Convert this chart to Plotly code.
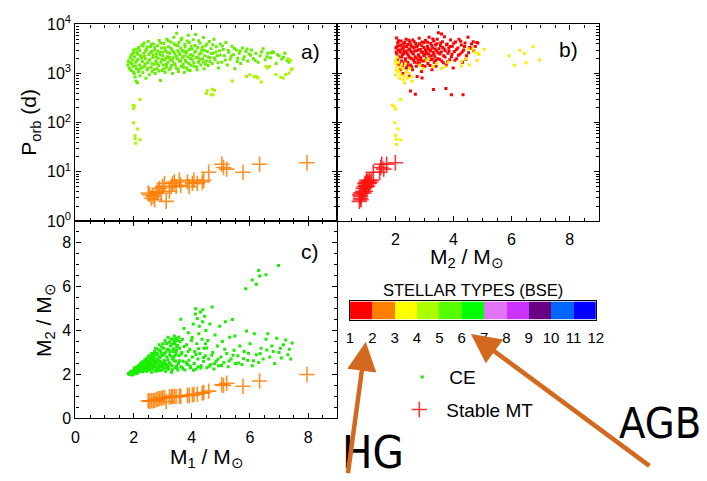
import plotly.graph_objects as go

# ---------------- data ----------------
# Panel a) CE systems: (M1 [Msun], P_orb [d]) coloured by donor type
a_ce_type5 = [
    (1.80, 1500), (1.82, 1800), (1.85, 1300), (1.88, 2100), (1.90, 1650), (1.92, 1150), (1.95, 2500),
    (1.97, 1900), (1.98, 1400), (2.00, 3000), (2.02, 1000), (2.03, 2200), (2.05, 850), (2.07, 1700),
    (2.08, 700), (2.10, 1250), (2.12, 2700), (2.13, 650), (2.15, 1950), (2.17, 1100), (2.18, 3400),
    (2.20, 1500), (2.22, 900), (2.24, 2300), (2.25, 1300),
    (2.28, 3800), (2.30, 1750), (2.32, 1050), (2.35, 2600), (2.36, 4200), (2.38, 1400), (2.40, 2000),
    (2.42, 800), (2.44, 3100), (2.46, 1200), (2.48, 1650), (2.50, 4500), (2.52, 2400), (2.54, 950),
    (2.56, 1900), (2.58, 3500), (2.60, 1350), (2.62, 2800), (2.64, 1100), (2.66, 2150), (2.68, 4000),
    (2.70, 1550), (2.72, 3000), (2.74, 1000), (2.76, 1800), (2.78, 2500), (2.80, 1250), (2.82, 3700),
    (2.84, 2050), (2.86, 1450), (2.88, 4700), (2.90, 2700), (2.92, 720), (2.94, 1700), (2.96, 3300),
    (2.98, 1150),
    (3.00, 2300), (3.02, 1500), (3.04, 4100), (3.06, 1900), (3.08, 1050), (3.10, 2900), (3.12, 1350),
    (3.14, 5000), (3.16, 2200), (3.18, 1700), (3.20, 3500), (3.22, 1200), (3.24, 2600), (3.26, 1900),
    (3.28, 4400), (3.30, 1450), (3.32, 3000), (3.34, 1000), (3.36, 2100), (3.38, 5500), (3.40, 1600),
    (3.42, 2500), (3.44, 3800), (3.46, 1300), (3.48, 6600), (3.50, 2000), (3.52, 2900), (3.54, 1100),
    (3.56, 4300), (3.58, 1750), (3.60, 2400), (3.62, 3300), (3.64, 1400), (3.66, 5200), (3.68, 2100),
    (3.70, 1550), (3.72, 2800), (3.74, 1050), (3.76, 3900), (3.78, 1850), (3.80, 2600), (3.82, 1300),
    (3.84, 4600), (3.86, 2200), (3.88, 6000), (3.90, 1600), (3.92, 3100), (3.94, 1150), (3.96, 2400),
    (3.98, 3600),
    (4.02, 1900), (4.05, 4900), (4.08, 1400), (4.10, 2700), (4.13, 6200), (4.15, 2100), (4.18, 1200),
    (4.20, 3400), (4.23, 1700), (4.26, 2500), (4.28, 4200), (4.31, 1500), (4.34, 3000), (4.37, 2000),
    (4.40, 5400), (4.42, 1250), (4.45, 2300), (4.48, 3700), (4.50, 1800), (4.53, 2800), (4.56, 1450),
    (4.60, 4500), (4.63, 2100), (4.66, 3200), (4.70, 1600), (4.73, 2600), (4.76, 5000), (4.80, 1900),
    (4.84, 3500), (4.88, 2300), (4.92, 1300), (4.95, 2900), (4.98, 4000),
    (5.03, 1700), (5.08, 3100), (5.12, 2300), (5.17, 4300), (5.22, 1500), (5.27, 2700), (5.32, 1950),
    (5.38, 3600), (5.43, 2400), (5.48, 1250), (5.53, 3000), (5.58, 2050), (5.63, 2600), (5.68, 1600),
    (5.74, 3300), (5.80, 2200), (5.86, 2800), (5.92, 1800), (5.97, 2500),
    (6.05, 3000), (6.12, 2000), (6.20, 2600), (6.28, 1700), (6.35, 2300), (6.45, 3200), (6.52, 1900),
    (6.61, 2600), (6.72, 2640), (6.81, 2680), (6.70, 2100), (6.78, 2770), (6.90, 1600), (7.00, 2300),
    (7.09, 1980), (7.20, 2600), (7.34, 1700),
    (1.83, 1720), (1.87, 1240), (1.91, 2360), (1.94, 1580), (1.99, 1080), (2.01, 2640), (2.06, 1420),
    (2.09, 3150), (2.11, 1830), (2.14, 2480), (2.19, 1190), (2.21, 2950), (2.27, 2070), (2.29, 1330),
    (2.33, 3640), (2.37, 2240), (2.39, 1560), (2.41, 2870), (2.47, 3480), (2.49, 1280), (2.53, 1870),
    (2.57, 2660), (2.61, 3920), (2.63, 1590), (2.67, 2380), (2.71, 1210), (2.73, 3380), (2.77, 2180),
    (2.81, 1610), (2.83, 2860), (2.87, 1120), (2.91, 2420), (2.93, 4180), (2.97, 1930), (3.01, 2760),
    (3.03, 1230), (3.07, 3310), (3.11, 2040), (3.13, 1520), (3.17, 2680), (3.19, 4650), (3.23, 2150),
    (3.27, 1290), (3.29, 3220), (3.33, 1830), (3.37, 2790), (3.39, 4060), (3.43, 1510), (3.47, 2230),
    (3.51, 3730), (3.53, 1230), (3.57, 2630), (3.61, 1840), (3.63, 4880), (3.67, 2980), (3.71, 1350),
    (3.73, 2260), (3.77, 3460), (3.81, 1720), (3.83, 2840), (3.87, 1180), (3.91, 4260), (3.95, 2020),
    (3.97, 1480), (4.01, 3190), (4.04, 2310), (4.07, 1660), (4.11, 3740), (4.14, 2880), (4.17, 1360),
    (4.21, 2180), (4.24, 4660), (4.27, 1940), (4.32, 2620), (4.36, 3480), (4.39, 1720), (4.43, 2980),
    (4.47, 1540), (4.52, 3980), (4.57, 2180), (4.62, 1750), (4.67, 2560), (4.72, 3840), (4.78, 2080),
    (4.83, 2760), (4.90, 1660), (4.97, 2380), (5.05, 3650), (5.15, 1880), (5.25, 2950), (5.35, 2250),
    (5.46, 3250), (5.56, 1750), (5.66, 2880), (5.77, 1950), (5.90, 3150), (6.02, 2350), (6.18, 1850),
    (6.40, 2750), (6.58, 2200), (6.95, 2400), (7.15, 2150), (7.28, 1850),
]
a_ce_type4 = [
    (1.99, 226), (2.00, 195), (2.02, 219), (2.22, 297), (2.00, 100), (2.13, 74), (2.05, 54),
    (2.22, 45), (2.05, 47), (2.07, 38),
    (4.53, 444), (4.70, 478), (4.78, 457), (4.50, 394), (4.67, 372), (4.73, 372),
    (5.39, 706), (5.88, 870), (5.99, 940), (6.14, 857), (6.22, 870), (6.27, 810), (6.39, 670),
    (6.55, 1385), (6.61, 1290), (6.67, 1385), (6.89, 955), (7.06, 840), (7.14, 810), (7.23, 955),
    (7.34, 1024), (7.42, 1194), (7.45, 1250), (7.40, 1866), (7.31, 2010),
]

# Panel b) CE systems: (M2 [Msun], P_orb [d]) coloured by companion type
b_ce_type1 = [
    (2.02, 3300), (2.04, 5300), (2.05, 2500), (2.07, 1900), (2.08, 4200), (2.10, 3000), (2.12, 1500),
    (2.13, 2200), (2.15, 3700), (2.17, 2700), (2.18, 1200), (2.20, 4600), (2.21, 1800), (2.23, 3200),
    (2.25, 2400), (2.26, 1000), (2.28, 4000), (2.30, 2900), (2.31, 1600), (2.33, 3500), (2.35, 2000),
    (2.37, 5000), (2.38, 1300), (2.40, 2600), (2.42, 3900), (2.43, 1700), (2.45, 3000), (2.47, 2200),
    (2.48, 900), (2.50, 4400),
    (2.52, 1500), (2.52, 440), (2.54, 2800), (2.55, 3600), (2.57, 2000), (2.59, 1200), (2.60, 4800),
    (2.62, 2500), (2.64, 3300), (2.66, 1700), (2.68, 2200), (2.69, 380), (2.70, 4100), (2.72, 1400),
    (2.74, 2900), (2.75, 870), (2.76, 3700), (2.78, 1900), (2.80, 2400), (2.82, 5200), (2.84, 1600),
    (2.86, 3100), (2.88, 2100), (2.90, 1100), (2.92, 4400), (2.92, 810), (2.94, 2700), (2.96, 1800),
    (2.98, 3400),
    (3.00, 2300), (3.02, 1400), (3.04, 4700), (3.06, 2900), (3.08, 2000), (3.10, 3600), (3.12, 1600),
    (3.14, 2500), (3.16, 5500), (3.18, 3000), (3.20, 1900), (3.22, 4100), (3.24, 2300), (3.26, 1200),
    (3.28, 3300), (3.30, 2700), (3.31, 475), (3.32, 4600), (3.34, 1700), (3.36, 2200), (3.38, 3800),
    (3.40, 1400), (3.42, 2900), (3.44, 5000), (3.46, 2000), (3.48, 6800), (3.50, 3200),
    (3.53, 2500), (3.56, 4200), (3.59, 6400), (3.60, 1800), (3.63, 3400), (3.66, 2300), (3.69, 5600),
    (3.72, 2900), (3.74, 495), (3.75, 1500), (3.78, 4000), (3.81, 2600), (3.84, 3300), (3.87, 1900),
    (3.90, 4800), (3.93, 2200), (3.93, 372), (3.96, 3600), (3.99, 1300),
    (4.03, 2800), (4.07, 4400), (4.11, 2000), (4.15, 3300), (4.19, 5000), (4.23, 2500), (4.27, 3800),
    (4.31, 1700), (4.33, 372), (4.35, 3000), (4.40, 4200), (4.45, 2300), (4.50, 5500), (4.55, 3400),
    (4.62, 4000), (4.70, 2900), (4.80, 4300), (4.84, 4200),
    (2.03, 2760), (2.06, 3560), (2.09, 2140), (2.11, 4660), (2.14, 1680), (2.16, 2980), (2.19, 3820),
    (2.22, 2160), (2.24, 1380), (2.27, 3380), (2.29, 2560), (2.32, 4280), (2.34, 1860), (2.36, 2780),
    (2.39, 3540), (2.41, 1480), (2.44, 2380), (2.46, 4760), (2.49, 3160), (2.51, 2060), (2.53, 3860),
    (2.56, 1380), (2.58, 2660), (2.61, 3460), (2.63, 1860), (2.65, 4420), (2.67, 2860), (2.71, 2060),
    (2.73, 3560), (2.77, 1660), (2.79, 3060), (2.81, 2260), (2.83, 4060), (2.87, 1860), (2.89, 2760),
    (2.91, 3660), (2.93, 1460), (2.97, 2460), (2.99, 4260), (3.03, 3060), (3.05, 1860), (3.07, 2560),
    (3.11, 4360), (3.13, 3260), (3.17, 2160), (3.19, 1460), (3.21, 2860), (3.25, 3760), (3.27, 1960),
    (3.29, 5060), (3.33, 2460), (3.37, 3160), (3.39, 1860), (3.43, 4060), (3.47, 2660), (3.52, 1960),
    (3.55, 3660), (3.58, 2760), (3.62, 4460), (3.65, 1660), (3.68, 3160), (3.71, 2160), (3.76, 3860),
    (3.80, 1760), (3.85, 2860), (3.89, 3560), (3.95, 2460), (4.01, 4160), (4.05, 1860), (4.10, 3060),
    (4.17, 2360), (4.25, 4560), (4.30, 2760), (4.38, 3560), (4.43, 1960), (4.52, 2660), (4.60, 3260),
    (4.68, 4460), (4.75, 3560),
]
b_ce_type3 = [
    (2.01, 1585), (2.07, 1370), (2.12, 1125), (2.18, 937), (2.27, 748), (2.32, 645), (2.41, 808),
    (2.46, 1000), (2.01, 937), (2.09, 1090), (2.24, 1260), (2.35, 1585), (2.50, 1260), (2.58, 697),
    (2.01, 1840), (2.07, 2140), (2.03, 1200), (2.15, 800), (2.20, 1450), (2.30, 900), (2.12, 1700),
    (2.38, 1100), (2.55, 850),
    (2.18, 297), (1.90, 227), (1.96, 217), (2.01, 189), (1.98, 99), (2.09, 74), (2.01, 55),
    (2.03, 46), (2.18, 45), (2.04, 36),
    (2.85, 1500), (2.95, 1250), (3.08, 1870), (3.14, 2000), (3.31, 1390), (3.42, 1600), (3.59, 1260),
    (3.71, 1370), (3.82, 1710), (4.27, 1430), (4.27, 1760), (4.44, 1990), (4.55, 1510), (4.50, 3210),
    (4.67, 3210), (4.72, 2750), (4.88, 2450),
    (4.81, 1840), (4.84, 2600), (5.06, 3110), (5.91, 2300), (6.10, 1470), (6.28, 2970), (6.44, 2560),
    (6.50, 1660), (6.74, 3510), (6.96, 1900),
]

# Panel c) CE systems: (M1 [Msun], M2 [Msun])
c_ce = [
    (1.82, 2.04), (1.85, 2.00), (1.88, 2.10), (1.90, 2.03), (1.92, 2.15), (1.95, 1.97), (1.97, 2.08),
    (2.00, 2.20), (2.02, 2.02), (2.04, 2.12), (2.06, 2.28), (2.08, 2.06), (2.10, 2.18), (2.12, 2.35),
    (2.14, 2.10), (2.16, 2.25), (2.18, 2.42), (2.20, 2.15), (2.22, 2.32), (2.24, 2.50), (2.26, 2.20),
    (2.28, 2.40), (2.30, 2.58), (2.32, 2.12), (2.34, 2.30), (2.36, 2.48), (2.38, 2.66), (2.40, 2.22),
    (2.42, 2.38), (2.44, 2.56), (2.46, 2.75), (2.48, 2.30), (2.50, 2.45), (2.50, 2.62), (2.45, 2.15),
    (2.52, 2.85), (2.54, 2.20), (2.56, 2.38), (2.58, 2.55), (2.60, 2.72), (2.62, 2.95), (2.64, 2.25),
    (2.66, 2.45), (2.68, 2.62), (2.70, 2.80), (2.72, 3.05), (2.74, 2.18), (2.76, 2.35), (2.78, 2.52),
    (2.80, 2.70), (2.82, 2.90), (2.84, 3.15), (2.86, 2.28), (2.88, 2.42), (2.90, 2.60), (2.92, 2.78),
    (2.94, 3.00), (2.96, 3.25), (2.98, 2.20), (2.99, 2.50), (2.62, 2.10), (2.70, 2.58), (2.78, 2.15),
    (2.85, 2.65), (2.92, 2.35), (2.55, 2.65), (2.66, 2.85), (2.75, 3.20), (2.88, 3.35), (2.97, 2.90),
    (3.00, 3.40), (3.02, 2.30), (3.04, 2.65), (3.06, 2.95), (3.08, 3.55), (3.10, 2.15), (3.12, 2.45),
    (3.14, 2.80), (3.16, 3.15), (3.18, 3.70), (3.20, 2.25), (3.22, 2.55), (3.24, 2.90), (3.26, 3.30),
    (3.28, 3.60), (3.30, 2.10), (3.32, 2.40), (3.34, 2.70), (3.36, 3.05), (3.38, 3.45), (3.40, 3.75),
    (3.42, 2.30), (3.44, 2.60), (3.46, 2.95), (3.48, 3.25), (3.50, 3.55), (3.52, 2.20), (3.54, 2.50),
    (3.56, 2.85), (3.58, 3.20), (3.60, 3.50), (3.35, 3.60), (3.45, 3.65), (3.25, 3.05), (3.15, 2.30),
    (3.05, 2.45), (3.38, 2.80), (3.48, 2.40), (3.55, 3.70), (3.42, 3.40),
    (3.62, 4.52), (3.64, 2.35), (3.66, 3.00), (3.68, 3.60), (3.70, 2.60), (3.73, 4.10), (3.76, 2.20),
    (3.79, 2.85), (3.82, 3.35), (3.85, 2.45), (3.88, 3.90), (3.90, 2.65), (3.93, 3.15), (3.96, 2.30),
    (3.99, 3.55), (4.02, 2.80), (4.05, 4.30), (4.08, 2.50), (4.10, 3.05), (4.12, 4.75), (4.15, 2.25),
    (4.17, 3.40), (4.19, 4.55), (4.21, 2.70), (4.24, 3.85), (4.26, 4.20), (4.28, 2.95), (4.30, 4.85),
    (4.32, 2.40), (4.35, 3.60), (4.37, 4.40), (4.40, 2.60), (4.42, 3.20), (4.44, 4.65), (4.46, 2.85),
    (4.48, 4.00), (4.13, 5.00), (4.38, 4.95), (4.22, 2.35), (4.47, 3.40),
    (4.52, 2.30), (4.55, 3.55), (4.58, 2.70), (4.62, 4.30), (4.65, 2.45), (4.70, 5.08), (4.72, 3.00),
    (4.76, 2.25), (4.80, 3.80), (4.84, 2.60), (4.88, 3.30), (4.92, 2.40), (4.96, 4.20), (5.00, 2.80),
    (5.05, 3.50), (5.10, 2.55), (5.15, 4.40), (5.20, 2.95), (5.25, 2.35), (5.30, 3.70), (5.35, 2.70),
    (5.40, 4.50), (5.45, 3.10), (5.50, 2.50), (5.48, 3.75),
    (5.58, 2.85), (5.65, 3.30), (5.72, 2.45), (5.80, 3.05), (5.88, 3.98), (5.92, 2.65), (6.00, 3.40),
    (6.08, 2.40), (6.15, 3.85), (6.22, 2.90), (6.30, 2.55), (6.38, 3.20), (6.45, 2.70), (6.55, 3.60),
    (6.61, 3.86), (6.68, 2.80), (6.75, 3.30), (6.85, 2.50), (6.92, 3.65), (7.00, 3.00), (7.08, 2.75),
    (7.15, 3.35), (7.23, 3.57), (7.30, 2.90), (7.45, 3.43), (7.40, 2.70),
    (5.85, 5.91), (6.08, 6.30), (6.22, 6.11), (6.30, 6.74), (6.33, 6.49), (6.55, 6.54), (6.98, 6.97),
    (1.86, 2.06), (1.93, 2.09), (1.99, 2.13), (2.03, 2.31), (2.07, 2.17), (2.11, 2.26), (2.13, 2.05),
    (2.17, 2.36), (2.21, 2.24), (2.23, 2.45), (2.27, 2.33), (2.29, 2.14), (2.31, 2.49), (2.33, 2.39),
    (2.37, 2.19), (2.39, 2.57), (2.41, 2.31), (2.43, 2.68), (2.47, 2.44), (2.49, 2.21), (2.51, 2.53),
    (2.53, 2.37), (2.57, 2.77), (2.59, 2.29), (2.61, 2.47), (2.63, 2.83), (2.67, 2.33), (2.69, 2.71),
    (2.71, 2.41), (2.73, 2.92), (2.77, 2.61), (2.79, 2.27), (2.81, 2.97), (2.83, 2.47), (2.87, 2.81),
    (2.89, 2.18), (2.91, 3.09), (2.93, 2.55), (2.97, 2.39), (3.01, 2.87), (3.03, 3.19), (3.07, 2.59),
    (3.09, 2.31), (3.11, 3.02), (3.13, 3.41), (3.17, 2.67), (3.19, 2.37), (3.21, 3.11), (3.23, 3.47),
    (3.27, 2.47), (3.29, 2.83), (3.31, 3.37), (3.33, 2.21), (3.37, 3.17), (3.39, 2.63), (3.41, 3.53),
    (3.43, 2.87), (3.47, 3.09), (3.49, 2.29), (3.51, 3.33), (3.57, 2.62), (3.63, 2.93), (3.69, 2.27),
    (3.74, 3.27), (3.81, 2.55), (3.87, 3.05), (3.94, 2.39), (4.01, 3.69), (4.06, 2.19), (4.14, 2.91),
    (4.23, 3.17), (4.31, 2.29), (4.41, 2.77), (4.51, 3.21), (4.60, 2.37), (4.69, 2.88), (4.78, 2.49),
    (4.90, 2.69), (5.02, 2.41), (5.13, 3.15), (5.28, 2.61), (5.42, 2.87), (5.60, 2.52), (5.78, 2.71),
    (5.95, 2.97), (6.12, 2.62), (6.35, 2.96), (6.58, 3.11), (6.80, 3.05), (7.05, 3.20), (7.35, 3.15),
]

# Stable mass transfer systems: (M1, M2, P_orb)
stable_mt = [
    (2.50, 0.80, 3.7), (2.55, 0.78, 3.4), (2.61, 0.80, 2.9), (2.67, 0.80, 3.2), (2.72, 0.82, 2.7),
    (2.78, 0.86, 3.7), (2.84, 0.88, 4.0), (2.89, 0.90, 4.6), (2.95, 0.92, 3.7), (3.00, 0.93, 5.0),
    (3.06, 0.95, 5.8), (3.12, 0.76, 2.5), (3.23, 0.97, 4.0), (3.29, 0.98, 5.0), (3.34, 1.00, 5.8),
    (3.40, 1.00, 6.2), (3.46, 0.99, 5.0), (3.57, 1.02, 6.7), (3.62, 1.00, 5.3), (3.85, 1.05, 6.2),
    (3.91, 1.04, 5.0), (4.02, 1.07, 5.8), (4.07, 1.10, 6.7), (4.19, 1.10, 5.8), (4.36, 1.15, 6.2),
    (4.41, 1.18, 6.7), (4.58, 1.24, 9.8), (5.03, 1.53, 14.2), (5.09, 1.50, 12.2), (5.20, 1.60, 11.3),
    (5.76, 1.46, 9.8), (6.33, 1.70, 14.2), (7.96, 2.00, 15.3),
]
smt_m1 = [s[0] for s in stable_mt]
smt_m2 = [s[1] for s in stable_mt]
smt_porb = [s[2] for s in stable_mt]

# BSE stellar-type colour key
type_edges = list(range(1, 13))
type_colors = ["#ff0000", "#ff8000", "#ffff00", "#aaff00", "#55ff00", "#00ff00",
               "#e173f5", "#cc33ff", "#680082", "#0066ff", "#0000ff"]

linear_ticks = [0, 2, 4, 6, 8]
log_ticks = [1, 10, 100, 1000, 10000]
log_ticktext = ["10<sup>0</sup>", "10<sup>1</sup>", "10<sup>2</sup>", "10<sup>3</sup>", "10<sup>4</sup>"]

# ---------------- figure ----------------
W, H = 707, 481
FONT = "Liberation Sans, Arial, sans-serif"


def fx(p):
    return p / W


def fy(p):
    return 1 - p / H


def unzip(pairs):
    return [p[0] for p in pairs], [p[1] for p in pairs]


fig = go.Figure()

DOT = 3
ORANGE_CROSS = "rgba(255,125,0,0.85)"
RED_CROSS = "rgba(255,20,20,0.85)"


def dots(pairs, color, xa, ya, **kw):
    x, y = unzip(pairs)
    fig.add_trace(go.Scatter(x=x, y=y, xaxis=xa, yaxis=ya, mode="markers",
                             marker=dict(symbol="square", size=DOT, color=color, line=dict(width=0)),
                             hoverinfo="skip", showlegend=kw.pop("showlegend", False), **kw))


def crosses(x, y, color, xa, ya, **kw):
    fig.add_trace(go.Scatter(x=x, y=y, xaxis=xa, yaxis=ya, mode="markers",
                             marker=dict(symbol="cross-thin", size=11, color=color,
                                         line=dict(width=1.6, color=color)),
                             hoverinfo="skip", showlegend=kw.pop("showlegend", False), **kw))


# a) M1 vs Porb
dots(a_ce_type5, "#66ee00", "x", "y")
dots(a_ce_type4, "#aaf500", "x", "y")
crosses(smt_m1, smt_porb, ORANGE_CROSS, "x", "y")

# b) M2 vs Porb
dots(b_ce_type1, "#ff0000", "x2", "y2")
dots(b_ce_type3, "#ffee00", "x2", "y2")
crosses(smt_m2, smt_porb, RED_CROSS, "x2", "y2", name="Stable MT", showlegend=True, legend="legend2")

# c) M1 vs M2
dots(c_ce, "#1aee00", "x3", "y3", name="CE", showlegend=True, legend="legend")
crosses(smt_m1, smt_m2, ORANGE_CROSS, "x3", "y3")

# colour key
n_types = len(type_colors)
scale = []
for i, c in enumerate(type_colors):
    scale.append([i / n_types, c])
    scale.append([(i + 1) / n_types, c])
fig.add_trace(go.Heatmap(x=type_edges, y=[0, 1], z=[list(range(1, n_types + 1))],
                         zmin=0.5, zmax=n_types + 0.5, colorscale=scale, showscale=False,
                         xaxis="x4", yaxis="y4", hoverinfo="skip"))

axis_common = dict(showline=True, linecolor="black", linewidth=1.4, mirror="ticks",
                   ticks="inside", ticklen=5, tickwidth=1, tickcolor="black",
                   showgrid=False, zeroline=False,
                   tickfont=dict(family=FONT, size=16, color="black"))
lin_minor = dict(ticks="inside", ticklen=3, tickwidth=1, tickcolor="black", dtick=0.5, tick0=0,
                 showgrid=False)
log_minor = dict(ticks="inside", ticklen=3, tickwidth=1, tickcolor="black", showgrid=False,
                 tickvals=[k * 10 ** d for d in range(4) for k in range(2, 10)])

xa_dom = [fx(72.7), fx(339)]
xb_dom = [fx(339), fx(605)]
top_dom = [fy(219), fy(14)]
bot_dom = [fy(425), fy(219)]

fig.update_layout(
    width=W, height=H, autosize=False,
    margin=dict(l=0, r=0, t=0, b=0),
    paper_bgcolor="white", plot_bgcolor="white",
    font=dict(family=FONT, color="black"),
    xaxis=dict(domain=xa_dom, anchor="y", range=[0, 9], tickvals=linear_ticks,
               showticklabels=False, minor=lin_minor, **axis_common),
    yaxis=dict(domain=top_dom, anchor="x", type="log", range=[0, 4], tickvals=log_ticks,
               ticktext=log_ticktext, minor=log_minor, **axis_common),
    xaxis2=dict(domain=xb_dom, anchor="y2", range=[0, 9], tickvals=linear_ticks,
                ticktext=["", "2", "4", "6", "8"], minor=lin_minor, ticklabelstandoff=4,
                **axis_common),
    yaxis2=dict(domain=top_dom, anchor="x2", type="log", range=[0, 4], tickvals=log_ticks,
                showticklabels=False, minor=log_minor, **axis_common),
    xaxis3=dict(domain=xa_dom, anchor="y3", range=[0, 9], tickvals=linear_ticks,
                minor=lin_minor, ticklabelstandoff=4, **axis_common),
    yaxis3=dict(domain=bot_dom, anchor="x3", range=[0, 9], tickvals=linear_ticks,
                minor=lin_minor, **axis_common),
    xaxis4=dict(domain=[fx(352), fx(602)], anchor="y4", range=[1, 12], tickvals=type_edges,
                ticks="", showline=True, linecolor="black", linewidth=1.4, mirror=True,
                showgrid=False, zeroline=False, ticklabelstandoff=4,
                tickfont=dict(family=FONT, size=15, color="black")),
    yaxis4=dict(domain=[fy(322), fy(303)], anchor="x4", range=[0, 1], showticklabels=False,
                ticks="", showline=True, linecolor="black", linewidth=1.4, mirror=True,
                showgrid=False, zeroline=False),
    legend=dict(x=fx(398), y=fy(382), xanchor="left", yanchor="middle", itemwidth=44,
                font=dict(family=FONT, size=19, color="black"), bgcolor="rgba(0,0,0,0)",
                itemsizing="trace"),
    legend2=dict(x=fx(395), y=fy(416), xanchor="left", yanchor="middle", itemwidth=44,
                 font=dict(family=FONT, size=19, color="black"), bgcolor="rgba(0,0,0,0)",
                 itemsizing="trace"),
)

ann = []


def label(text, x, y, size, angle=0, family=FONT, color="black"):
    ann.append(dict(text=text, x=fx(x), y=fy(y), xref="paper", yref="paper", showarrow=False,
                    xanchor="center", yanchor="middle", textangle=angle,
                    font=dict(family=family, size=size, color=color)))


label("a)", 312, 42, 21)
label("b)", 574, 40, 21)
label("c)", 311, 251, 21)
label("P<sub>orb</sub> (d)", 27, 116, 21, angle=-90)
label("M<sub>2</sub> / M<sub>⊙</sub>", 41, 322, 21, angle=-90)
label("M<sub>1</sub> / M<sub>⊙</sub>", 206, 466, 21)
label("M<sub>2</sub> / M<sub>⊙</sub>", 471, 258, 21)
label("STELLAR TYPES (BSE)", 477, 291, 16.5)

NARROW = "Liberation Sans Narrow, DejaVu Sans Condensed, sans-serif"
label("HG", 375, 461, 45, family=NARROW)
label("AGB", 667, 430, 43, family=NARROW)

ARROW = "#d2691e"


def arrow(tail, tip):
    ann.append(dict(text="", x=fx(tip[0]), y=fy(tip[1]), xref="paper", yref="paper",
                    ax=tail[0] - tip[0], ay=tail[1] - tip[1], axref="pixel", ayref="pixel",
                    showarrow=True, arrowhead=2, arrowsize=1.3, arrowwidth=4.5,
                    arrowcolor=ARROW, standoff=0, startstandoff=0))


arrow((350, 478), (368, 345))
arrow((655, 470), (475, 337))

fig.update_layout(annotations=ann)
fig.write_html("out.html")
